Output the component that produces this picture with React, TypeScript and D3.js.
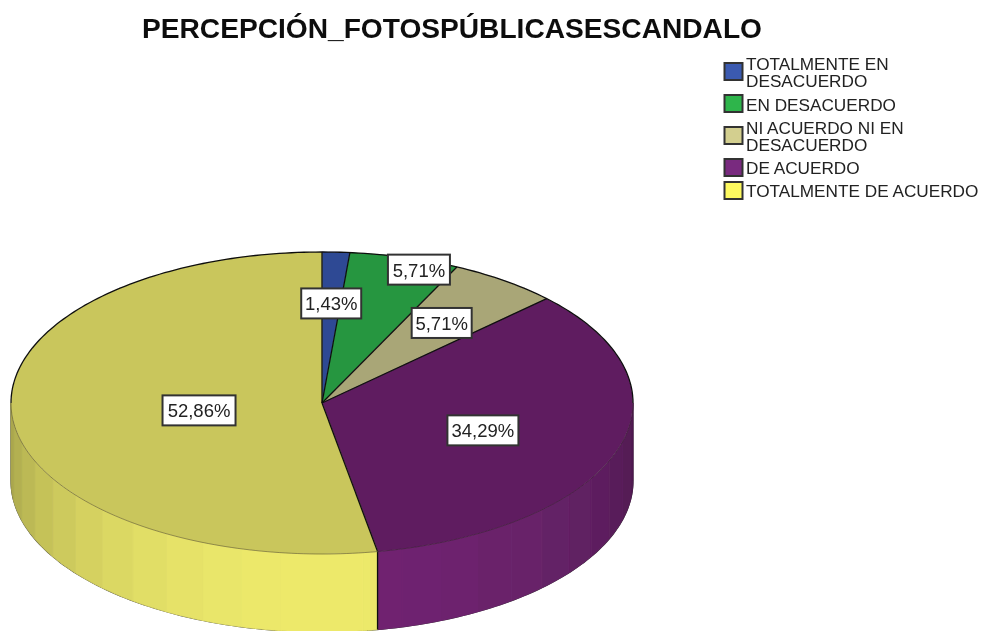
import React from "react";
import * as d3 from "d3";

const title = "PERCEPCIÓN_FOTOSPÚBLICASESCANDALO";
const categories = [
  "TOTALMENTE EN DESACUERDO",
  "EN DESACUERDO",
  "NI ACUERDO NI EN DESACUERDO",
  "DE ACUERDO",
  "TOTALMENTE DE ACUERDO",
];
const values = [1.43, 5.71, 5.71, 34.29, 52.86];
const valueLabels = ["1,43%", "5,71%", "5,71%", "34,29%", "52,86%"];
const legendLines = [
  ["TOTALMENTE EN", "DESACUERDO"],
  ["EN DESACUERDO"],
  ["NI ACUERDO NI EN", "DESACUERDO"],
  ["DE ACUERDO"],
  ["TOTALMENTE DE ACUERDO"],
];
const topColors = ["#2f4a94", "#27963f", "#a9a677", "#5f1f60", "#c9c65b"];
const legendColors = ["#3a5ab0", "#2db54c", "#d3cf8f", "#79297f", "#fdf95f"];

const cx = 322, cy = 403, rx = 311, ry = 151, depth = 78;
const labelRadius = [0.66, 0.93, 0.655, 0.544, 0.397];
const labelNudge = [[0, 0], [20, 2], [0, 0], [0, 2], [0, 2]];
const labelWidth = [60, 62, 60, 71, 73];
const legendSwatchY = [63, 95, 127, 159, 182];
const legendBaselines = [[70, 87], [111], [134, 151], [174], [197]];

const px = d3.scaleLinear().domain([-1, 1]).range([cx - rx, cx + rx]);
const py = d3.scaleLinear().domain([-1, 1]).range([cy - ry, cy + ry]);

const pie = d3.pie<number>().sort(null).startAngle(0).endAngle(2 * Math.PI);
const slices = pie(values);
const arc = d3.arc<d3.PieArcDatum<number>>().innerRadius(0).outerRadius(1);
const pathLine = d3.line<[number, number]>();

const onTop = (a: number): [number, number] => [px(Math.sin(a)), py(-Math.cos(a))];
const onBottom = (a: number): [number, number] => [px(Math.sin(a)), py(-Math.cos(a)) + depth];
const sweep = (a0: number, a1: number, n: number) => d3.range(n + 1).map((k) => a0 + ((a1 - a0) * k) / n);

// Rim shading: lit in the front, darker toward the sides
function rimColor(base: string, theta: number) {
  const f = 0.82 + 0.36 * Math.max(0, -Math.cos(theta));
  const c = d3.rgb(base);
  return d3.rgb(Math.min(255, c.r * f), Math.min(255, c.g * f), Math.min(255, c.b * f)).formatHex();
}

const BAND = (7.5 * Math.PI) / 180;

function bandPath(a0: number, a1: number) {
  const angles = sweep(a0, a1, 6);
  const pts = angles.map(onTop).concat(angles.slice().reverse().map(onBottom));
  return pathLine(pts) + "Z";
}

function rimBands() {
  const out: { d: string; fill: string }[] = [];
  slices.forEach((s, i) => {
    const start = Math.max(s.startAngle, Math.PI / 2);
    const end = Math.min(s.endAngle, (3 * Math.PI) / 2);
    if (end <= start) return;
    for (let k = Math.floor((start - Math.PI) / BAND); k * BAND + Math.PI < end; k++) {
      const a0 = Math.max(start, Math.PI + k * BAND);
      const a1 = Math.min(end, Math.PI + (k + 1) * BAND);
      if (a1 <= a0) continue;
      out.push({ d: bandPath(a0, a1), fill: rimColor(topColors[i], (a0 + a1) / 2) });
    }
  });
  return out;
}

function bottomOutline() {
  return pathLine(
    [[px(1), py(0)] as [number, number]]
      .concat(sweep(Math.PI / 2, (3 * Math.PI) / 2, 160).map(onBottom))
      .concat([[px(-1), py(0)] as [number, number]])
  )!;
}

export default function App() {
  const split = slices[4].startAngle;
  const [splitX, splitY] = onTop(split);
  const backEdge = pathLine(sweep(-Math.PI / 2, Math.PI / 2, 160).map(onTop))!;
  const frontEdge = pathLine(sweep(Math.PI / 2, (3 * Math.PI) / 2, 160).map(onTop))!;
  return (
    <svg
      width={984}
      height={631}
      viewBox="0 0 984 631"
      style={{ position: "absolute", left: 0, top: 0, background: "#fff" }}
      fontFamily="'Liberation Sans', Arial, sans-serif"
    >
      <defs>
        <filter id="soft" x="-2%" y="-2%" width="104%" height="104%">
          <feGaussianBlur stdDeviation="0.4" />
        </filter>
      </defs>
      <g filter="url(#soft)">
        <text x={142} y={38} fontSize={27} fontWeight={700} fill="#111" textLength={620} lengthAdjust="spacingAndGlyphs">
          {title}
        </text>

        <path d={bottomOutline()} fill="#fff" stroke="#333" strokeWidth={1.2} />
        {rimBands().map((b, i) => (
          <path key={i} d={b.d} fill={b.fill} stroke={b.fill} strokeWidth={0.9} />
        ))}
        <line x1={splitX} x2={splitX} y1={splitY} y2={splitY + depth} stroke="#111" strokeWidth={1.4} />

        <g transform={`translate(${cx},${cy}) scale(${rx},${ry})`}>
          {slices.map((s, i) => (
            <path key={categories[i]} d={arc(s)!} fill={topColors[i]} stroke={topColors[i]} strokeWidth={0.5} vectorEffect="non-scaling-stroke" />
          ))}
        </g>
        <path d={frontEdge} fill="none" stroke="#2a2020" strokeOpacity={0.5} strokeWidth={0.8} />
        <path d={backEdge} fill="none" stroke="#111" strokeWidth={1.3} />
        {slices.map((s, i) => {
          const [x, y] = onTop(s.startAngle);
          return <line key={i} x1={cx} y1={cy} x2={x} y2={y} stroke="#111" strokeWidth={1.3} />;
        })}

        {slices.map((s, i) => {
          const mid = (s.startAngle + s.endAngle) / 2;
          const x = px(Math.sin(mid) * labelRadius[i]) + labelNudge[i][0];
          const y = py(-Math.cos(mid) * labelRadius[i]) + labelNudge[i][1];
          const w = labelWidth[i];
          return (
            <g key={i}>
              <rect x={x - w / 2} y={y - 15} width={w} height={30} fill="#fff" stroke="#333" strokeWidth={2} />
              <text x={x} y={y + 7} textAnchor="middle" fontSize={18.5} fill="#222">
                {valueLabels[i]}
              </text>
            </g>
          );
        })}

        {categories.map((c, i) => (
          <g key={c}>
            <rect x={724.5} y={legendSwatchY[i]} width={18} height={17} fill={legendColors[i]} stroke="#333" strokeWidth={2} />
            {legendLines[i].map((t, j) => (
              <text key={j} x={746} y={legendBaselines[i][j]} fontSize={17.2} fill="#222">
                {t}
              </text>
            ))}
          </g>
        ))}
      </g>
    </svg>
  );
}
